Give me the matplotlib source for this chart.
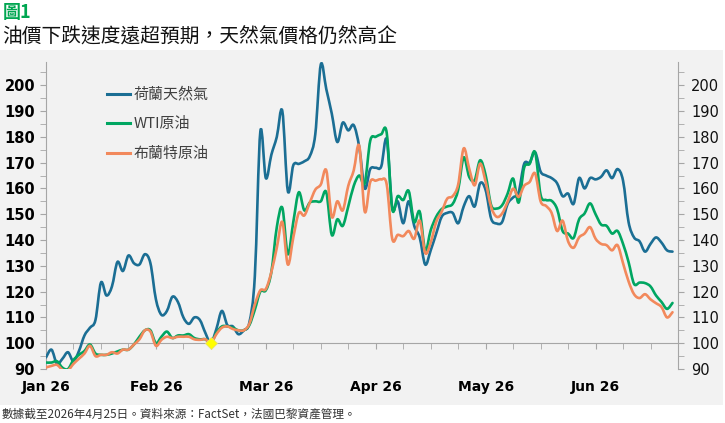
import matplotlib
matplotlib.use("Agg")
import matplotlib.pyplot as plt
from matplotlib.patches import Rectangle, PathPatch
from matplotlib.path import Path
from matplotlib.lines import Line2D
from matplotlib.ticker import FixedLocator, MultipleLocator
from matplotlib.font_manager import FontProperties
import numpy as np

# ---------------- data ----------------
month_labels = ["Jan 26", "Feb 26", "Mar 26", "Apr 26", "May 26", "Jun 26"]
days_per_month = 20          # trading days between month labels
days_per_tick = 5            # one minor tick per week
base_day = 30                # index date (=100)
series_names = ["荷蘭天然氣", "WTI原油", "布蘭特原油"]

dutch_gas = [94.5, 97.5, 92, 94, 96.5, 93, 97, 103, 106, 109,
             123.5, 118.5, 122, 131.5, 128, 134, 131, 130.5, 134.5, 131,
             117, 111, 112.5, 118, 116, 110, 107.5, 110, 109, 104,
             100, 105.5, 112.5, 107, 106.5, 103.5, 105, 108, 126, 182,
             164, 173, 180, 190, 159, 169, 169.5, 170.5, 172.5, 181,
             208, 198.5, 189, 178, 185.5, 182.5, 184.5, 176, 160, 167.5,
             168, 168.5, 179, 152.5, 155, 146.5, 155, 145.5, 141, 130.5,
             136, 142.5, 149, 150.5, 150.5, 146.5, 153, 157, 153, 162,
             159.3, 148.3, 146.4, 147, 154, 156.5, 158.5, 169.5, 170, 174,
             166.5, 165, 164, 162, 157, 158, 154, 164, 160, 164,
             163.5, 164.5, 167, 164, 167.5, 163, 147, 141, 139.5, 135.5,
             138.5, 141, 139, 136, 135.5]

wti = [92.5, 92.5, 93, 90.5, 90, 93.5, 95.5, 97, 99.5, 96,
       95.5, 95.5, 96, 96.8, 97.5, 97.5, 99.5, 102.5, 105, 105,
       100, 102.5, 104.5, 102, 103, 103, 103.5, 102, 101.5, 101.5,
       100, 104, 106.5, 106.5, 106, 105, 105, 107, 113, 120,
       120.5, 127.5, 145, 152.5, 134.5, 147, 158.5, 151.5, 154.5, 155,
       155, 158.5, 142, 148, 145.5, 153, 161, 165, 162, 178.5,
       180, 181, 181.5, 152, 157, 155.5, 159, 147, 151, 136,
       143.8, 149, 152, 153, 154, 159.5, 172, 164.5, 163.2, 170.9,
       165.1, 153.5, 152.2, 153.5, 158, 163.8, 154.5, 168, 169.5, 174,
       157.5, 155.5, 155.2, 152, 143.5, 142.5, 140.8, 148, 150.3, 154.2,
       150, 146, 145.5, 142.5, 143.5, 138.5, 131.5, 123, 123.5, 123.3,
       122, 118.5, 116, 113.3, 115.6]

brent = [90.6, 91.2, 91.6, 89.7, 89.5, 92, 94, 96, 99, 95,
         95.5, 95.5, 96.5, 96, 97.5, 97.5, 99.5, 101.5, 105, 104.5,
         99, 101.3, 102.5, 102, 102.5, 102.5, 102.5, 101.5, 101.3, 101.5,
         100, 103.5, 106, 106.5, 105.5, 105, 105, 107.5, 115, 120.5,
         121, 127.5, 137, 147, 130.5, 141, 150.5, 149.5, 154.5, 159.5,
         161.5, 167, 149, 155, 151.5, 161, 167, 176.5, 151, 162.5,
         163, 163.5, 161.5, 140.5, 142, 141.5, 143.5, 140.5, 147.5, 135,
         139, 147, 151, 156, 157, 161.5, 175.5, 167.7, 161.2, 169.6,
         162.5, 152.8, 149, 150.3, 154.8, 159.9, 156.7, 161, 162.5, 165.8,
         155, 153.2, 150.5, 143.5, 147.5, 139.5, 137, 141, 142.5, 145,
         140.5, 138.5, 138, 136, 138, 131, 124, 119, 117.5, 119,
         117, 115.5, 114, 110, 112]

colors = ["#1B6E94", "#00A661", "#F2895C"]


def smooth_path(xs, ys):
    """Excel-style smoothed line: cubic Bezier through every data point."""
    xs = np.asarray(xs, float)
    ys = np.asarray(ys, float)
    px = np.concatenate([[xs[0]], xs, [xs[-1]]])
    py = np.concatenate([[ys[0]], ys, [ys[-1]]])
    verts = [(xs[0], ys[0])]
    codes = [Path.MOVETO]
    for i in range(1, len(px) - 2):
        c1 = (px[i] + (px[i + 1] - px[i - 1]) / 6, py[i] + (py[i + 1] - py[i - 1]) / 6)
        c2 = (px[i + 1] - (px[i + 2] - px[i]) / 6, py[i + 1] - (py[i + 2] - py[i]) / 6)
        verts += [c1, c2, (px[i + 1], py[i + 1])]
        codes += [Path.CURVE4] * 3
    return Path(verts, codes)


# ---------------- figure ----------------
W, H = 725, 423
fig = plt.figure(figsize=(W / 100, H / 100), dpi=100)
fig.patch.set_facecolor("white")
bg = Rectangle((0, 1 - 405 / H), 723 / W, (405 - 50) / H,
               transform=fig.transFigure, facecolor="#F2F2F2",
               edgecolor="none", zorder=-10)
fig.add_artist(bg)

cjk = ["Noto Sans CJK TC", "DejaVu Sans"]
ax = fig.add_axes([46 / W, 1 - 369 / H, (678 - 46) / W, (369 - 62) / H])
ax.set_facecolor("none")

n = len(dutch_gas)
x = np.arange(n)
for z, (vals, c) in enumerate(zip([dutch_gas, wti, brent], colors)):
    ax.add_patch(PathPatch(smooth_path(x, vals), facecolor="none", edgecolor=c,
                           lw=1.9, joinstyle="round", capstyle="round", zorder=3 + z))
ax.plot([base_day], [dutch_gas[base_day]], marker="D", ms=6, mfc="#FFFF00",
        mec="#E8E070", mew=0.6, zorder=7, clip_on=False)

ymin, ymax = 90, 209
ax.set_ylim(ymin, ymax)
ax.set_xlim(0, 23 * days_per_tick)

spine_c = "#A6A6A6"
for s in ["top", "right"]:
    ax.spines[s].set_visible(False)
ax.spines["left"].set_color(spine_c)
ax.spines["bottom"].set_color(spine_c)
ax.spines["bottom"].set_position(("data", 100))

major_x = [i * days_per_month for i in range(len(month_labels))]
ax.xaxis.set_major_locator(FixedLocator(major_x))
ax.xaxis.set_minor_locator(MultipleLocator(days_per_tick))
ax.set_xticklabels(month_labels)
ax.tick_params(axis="x", which="both", direction="out", length=4, color=spine_c)
ax.tick_params(axis="x", which="major", pad=22.5, labelsize=10, labelcolor="black")
for lab in ax.get_xticklabels():
    lab.set_fontweight("bold")

ax.yaxis.set_major_locator(MultipleLocator(10))
ax.yaxis.set_minor_locator(MultipleLocator(5))
ax.tick_params(axis="y", which="both", direction="out", length=4, color=spine_c)
ax.tick_params(axis="y", which="major", pad=3.9, labelsize=10.5, labelcolor="black")
for lab in ax.get_yticklabels():
    lab.set_fontweight("bold")

ax2 = ax.twinx()
ax2.set_ylim(ymin, ymax)
for s in ["top", "left", "bottom"]:
    ax2.spines[s].set_visible(False)
ax2.spines["right"].set_color(spine_c)
ax2.yaxis.set_major_locator(MultipleLocator(10))
ax2.yaxis.set_minor_locator(MultipleLocator(5))
ax2.tick_params(axis="y", which="both", direction="out", length=4, color=spine_c)
ax2.tick_params(axis="y", which="major", pad=5.4, labelsize=10.5, labelcolor="#111111")

handles = [Line2D([], [], color=c, lw=2.2) for c in colors]
leg = ax.legend(handles, series_names, loc="upper left",
                bbox_to_anchor=((107 - 46) / 632, 1 - (87 - 62) / 307),
                frameon=False, borderaxespad=0, borderpad=0,
                handlelength=1.55, handletextpad=0.2, labelspacing=1.03,
                prop=FontProperties(family=cjk, size=10.8), labelcolor="#404040")

fig.text(3 / W, 1 - 13 / H, "圖1", color="#00A651", fontsize=13, fontweight="bold",
         va="center", ha="left", family=cjk)
fig.text(2 / W, 1 - 37 / H, "油價下跌速度遠超預期，天然氣價格仍然高企", color="#111111",
         fontsize=14.2, va="center", ha="left", family=cjk)
fig.text(2 / W, 1 - 414 / H, "數據截至2026年4月25日。資料來源：FactSet，法國巴黎資產管理。",
         color="#333333", fontsize=8.4, va="center", ha="left", family=cjk)

fig.savefig("out.png", dpi=100, facecolor="white")
